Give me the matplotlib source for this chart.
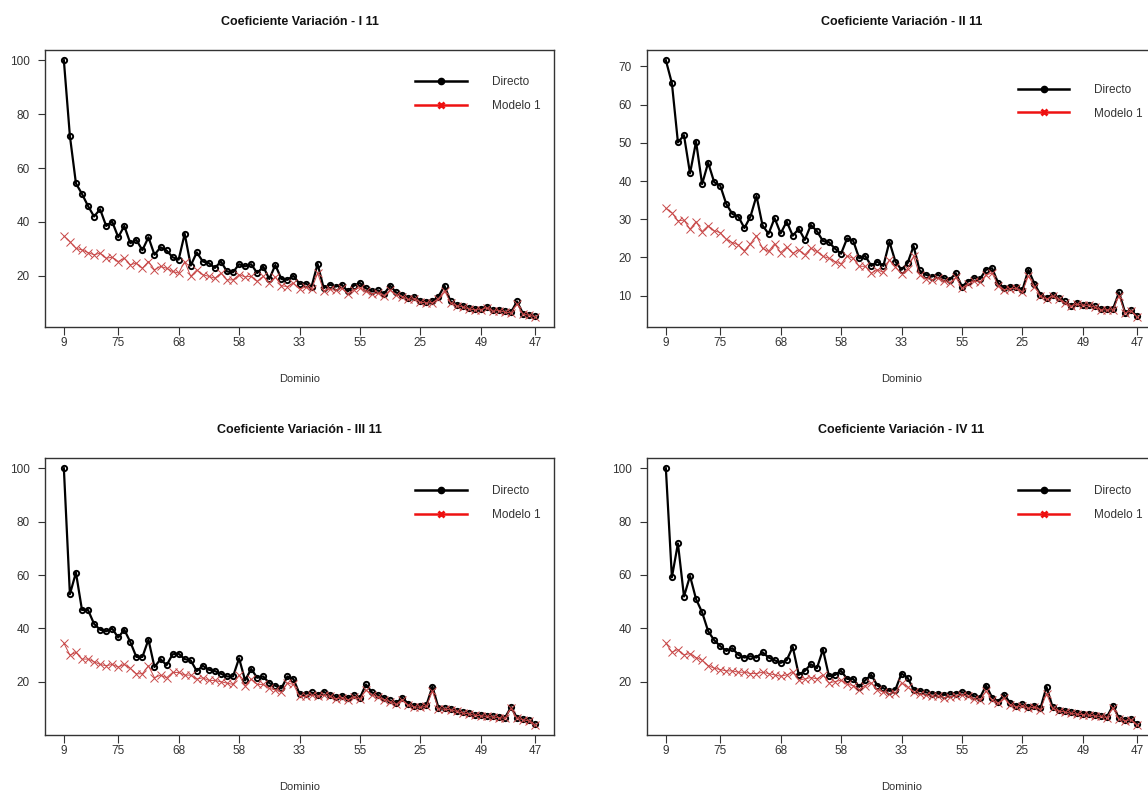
import matplotlib
matplotlib.use('Agg')
import matplotlib.pyplot as plt
from matplotlib.lines import Line2D

plt.rcParams['font.family'] = ['Liberation Sans', 'DejaVu Sans']

# ---------------- data ----------------
tick_positions = [1, 10, 20, 30, 40, 50, 60, 70, 79]
tick_labels = ["9", "75", "68", "58", "33", "55", "25", "49", "47"]

titles = ["Coeficiente Variación - I 11", "Coeficiente Variación - II 11",
          "Coeficiente Variación - III 11", "Coeficiente Variación - IV 11"]

directo_1 = [100, 71.9, 54.3, 50.4, 45.9, 42.0, 44.7, 38.5, 40.1, 34.3,
             38.5, 32.1, 33.3, 29.5, 34.3, 27.8, 30.6, 29.4, 26.9, 26.0,
             35.6, 23.8, 28.7, 25.3, 24.7, 22.9, 25.3, 21.6, 21.3, 24.3,
             23.5, 24.3, 21.0, 23.4, 18.8, 24.0, 18.8, 18.5, 20.0, 17.0,
             17.1, 16.0, 24.4, 15.4, 16.7, 16.0, 16.7, 14.2, 16.3, 17.3,
             15.4, 14.2, 14.6, 13.3, 16.3, 13.8, 13.0, 11.7, 12.1, 10.7,
             10.4, 10.5, 12.3, 16.3, 10.5, 9.3, 8.9, 8.0, 7.7, 7.7,
             8.6, 7.2, 7.4, 6.8, 6.4, 10.5, 5.9, 5.6, 4.9]
modelo_1 = [34.8, 32.7, 30.2, 29.6, 28.6, 27.8, 28.4, 26.5, 26.9, 25.3,
            26.5, 24.1, 24.7, 22.8, 25.3, 22.2, 23.5, 22.8, 21.6, 21.0,
            25.3, 19.8, 22.2, 20.4, 19.8, 19.1, 21.0, 18.5, 18.5, 20.4,
            19.6, 19.8, 17.9, 19.8, 17.3, 19.6, 16.3, 16.0, 17.3, 15.1,
            15.8, 15.0, 21.0, 14.5, 15.0, 14.6, 15.3, 13.3, 14.8, 15.6,
            14.2, 13.3, 13.6, 12.6, 14.8, 12.9, 12.3, 11.2, 11.5, 10.2,
            9.9, 10.0, 11.5, 14.5, 10.0, 8.9, 8.5, 7.7, 7.4, 7.4,
            8.2, 6.9, 7.1, 6.5, 6.2, 9.6, 5.7, 5.4, 4.8]

directo_2 = [71.6, 65.6, 50.1, 52.0, 42.0, 50.3, 39.2, 44.8, 39.7, 38.8,
             34.0, 31.4, 30.7, 27.7, 30.7, 36.1, 28.4, 26.2, 30.3, 26.3,
             29.4, 25.7, 27.5, 24.6, 28.5, 26.9, 24.3, 24.0, 22.3, 21.0,
             25.0, 24.4, 19.8, 20.4, 17.8, 18.9, 17.8, 24.1, 18.9, 16.8,
             18.5, 23.0, 16.6, 15.5, 15.0, 15.5, 14.6, 14.2, 15.9, 12.4,
             13.7, 14.6, 14.4, 16.8, 17.2, 13.3, 12.0, 12.3, 12.4, 11.4,
             16.8, 13.1, 10.3, 9.4, 10.3, 9.4, 8.5, 7.4, 8.1, 7.7,
             7.7, 7.2, 6.5, 6.5, 6.5, 10.9, 5.6, 6.2, 4.6]
modelo_2 = [32.9, 31.7, 29.6, 29.8, 27.4, 29.4, 26.8, 28.3, 27.0, 26.5,
            24.8, 23.9, 23.3, 21.8, 23.6, 25.7, 22.4, 21.6, 23.6, 21.3,
            22.7, 21.1, 22.0, 20.7, 22.4, 21.6, 20.3, 19.8, 18.9, 18.3,
            20.4, 19.8, 17.7, 17.7, 15.9, 16.8, 16.1, 19.4, 17.5, 15.8,
            17.0, 20.3, 15.5, 14.5, 14.2, 14.6, 13.8, 13.4, 14.8, 12.0,
            13.0, 13.8, 13.6, 15.5, 15.9, 12.6, 11.5, 11.8, 11.9, 11.0,
            15.2, 12.4, 9.9, 9.1, 9.9, 9.1, 8.2, 7.2, 7.8, 7.5,
            7.5, 7.0, 6.3, 6.3, 6.3, 10.0, 5.5, 6.0, 4.5]

directo_3 = [100, 52.8, 60.9, 46.9, 46.9, 41.7, 39.5, 38.9, 39.9, 36.6,
             39.5, 34.9, 29.3, 29.3, 35.8, 25.5, 28.5, 26.2, 30.3, 30.5,
             28.5, 28.0, 24.0, 26.0, 24.5, 24.0, 23.0, 22.0, 22.0, 28.8,
             20.5, 24.8, 21.5, 22.0, 19.5, 18.5, 17.5, 22.0, 21.0, 15.5,
             15.5, 16.0, 15.2, 16.2, 15.2, 14.2, 14.8, 13.8, 15.0, 14.0,
             19.0, 16.0, 15.0, 14.0, 13.0, 12.0, 14.0, 11.8, 11.0, 10.8,
             11.2, 18.2, 10.2, 10.0, 9.8, 9.2, 8.5, 8.2, 7.6, 7.5,
             7.2, 7.0, 6.8, 6.5, 10.5, 6.5, 6.0, 5.5, 4.0]
modelo_3 = [34.5, 30.0, 31.0, 28.5, 28.5, 27.5, 26.5, 26.0, 26.5, 25.5,
            26.5, 25.0, 23.0, 23.0, 26.0, 21.5, 22.5, 21.5, 23.5, 23.5,
            22.5, 22.5, 21.0, 21.5, 20.5, 20.5, 20.0, 19.5, 19.0, 22.5,
            18.5, 21.0, 19.0, 19.0, 17.5, 17.0, 16.0, 19.5, 19.0, 14.5,
            14.5, 15.0, 14.5, 15.0, 14.5, 13.5, 14.0, 13.2, 14.2, 13.5,
            17.0, 15.0, 14.2, 13.3, 12.5, 11.5, 13.2, 11.2, 10.6, 10.4,
            10.8, 16.5, 9.9, 9.7, 9.5, 8.9, 8.3, 8.0, 7.4, 7.3,
            7.0, 6.8, 6.6, 6.3, 10.0, 6.3, 5.8, 5.3, 3.9]

directo_4 = [100, 59.1, 71.8, 51.9, 59.6, 50.9, 46.0, 38.9, 35.5, 33.3,
             31.5, 32.5, 30.0, 29.0, 29.5, 29.0, 31.0, 29.0, 28.0, 27.0,
             28.0, 33.0, 22.5, 24.0, 26.5, 25.0, 32.0, 22.0, 22.5, 24.0,
             21.0, 21.0, 18.0, 20.5, 22.5, 18.5, 17.5, 16.5, 17.0, 23.0,
             21.5, 17.0, 16.5, 16.0, 15.5, 15.5, 15.0, 15.2, 15.5, 16.0,
             15.5, 14.5, 14.0, 18.5, 14.0, 12.5, 15.0, 12.0, 11.0, 11.5,
             10.5, 11.0, 10.0, 18.0, 10.5, 9.5, 9.0, 8.5, 8.2, 8.0,
             7.8, 7.5, 7.2, 6.8, 11.0, 6.2, 5.5, 6.0, 4.0]
modelo_4 = [34.5, 31.0, 32.0, 30.0, 30.5, 29.0, 28.0, 26.0, 25.0, 24.5,
            24.0, 24.0, 23.5, 23.5, 23.0, 23.0, 23.5, 23.0, 22.5, 22.0,
            22.5, 23.5, 20.5, 21.0, 21.5, 21.0, 22.5, 19.5, 20.0, 20.5,
            19.0, 18.5, 17.0, 18.5, 19.5, 17.0, 16.0, 15.5, 15.8, 19.5,
            18.0, 16.0, 15.2, 15.0, 14.5, 14.5, 14.0, 14.2, 14.5, 15.0,
            14.5, 13.5, 13.0, 16.5, 13.0, 11.8, 13.8, 11.3, 10.4, 10.8,
            10.0, 10.4, 9.5, 15.5, 9.9, 9.0, 8.6, 8.1, 7.8, 7.6,
            7.4, 7.1, 6.9, 6.5, 10.2, 5.9, 5.3, 5.7, 3.8]

yticks_list = [[20, 40, 60, 80, 100], [10, 20, 30, 40, 50, 60, 70],
               [20, 40, 60, 80, 100], [20, 40, 60, 80, 100]]
directo_all = [directo_1, directo_2, directo_3, directo_4]
modelo_all = [modelo_1, modelo_2, modelo_3, modelo_4]
legend_labels = ["Directo", "Modelo 1"]

# ---------------- figure ----------------
W, H = 1148, 792
fig = plt.figure(figsize=(W / 100, H / 100), dpi=100)

def rect(left, right, top, bottom):
    return [left / W, (H - bottom) / H, (right - left) / W, (bottom - top) / H]

rects = [rect(45, 554, 50, 327), rect(647, 1156, 50, 327),
         rect(45, 554, 458, 735), rect(647, 1156, 458, 735)]
legend_anchor = [(0.727, 0.905), (0.728, 0.878), (0.727, 0.902), (0.728, 0.902)]

tc = '#333333'
for k in range(4):
    ax = fig.add_axes(rects[k])
    x = list(range(1, len(directo_all[k]) + 1))
    ax.plot(x, directo_all[k], color='black', lw=1.6, marker='o', ms=3.8,
            mfc='none', mec='black', mew=1.4, zorder=3)
    ax.plot(x, modelo_all[k], color='#c84848', lw=0.7, marker='x', ms=6,
            mew=0.7, zorder=4)
    ax.margins(x=0.04, y=0.04)
    ax.set_xticks(tick_positions)
    ax.set_xticklabels(tick_labels)
    ax.set_yticks(yticks_list[k])
    ax.tick_params(axis='x', length=5.5, width=0.8, labelsize=8.5, colors=tc, pad=1.5)
    ax.tick_params(axis='y', length=5, width=0.8, labelsize=8.5, colors=tc, pad=6)
    for sp in ax.spines.values():
        sp.set_color(tc)
        sp.set_linewidth(1.0)
    ax.set_title(titles[k], fontsize=9, fontweight='bold', pad=18, color='#111111')
    ax.set_xlabel('Dominio', fontsize=8, labelpad=18, color=tc)
    handles = [Line2D([], [], color='black', lw=1.8, marker='o', ms=4.5, mfc='black'),
               Line2D([], [], color='#ee1111', lw=1.8, marker='x', ms=4.5, mew=2)]
    ax.legend(handles, legend_labels, loc='upper left', bbox_to_anchor=legend_anchor[k],
              frameon=False, fontsize=8.5, handlelength=4.4, handletextpad=2.1,
              labelspacing=1.0, borderpad=0, borderaxespad=0, labelcolor=tc)

fig.savefig('out.png', dpi=100)
